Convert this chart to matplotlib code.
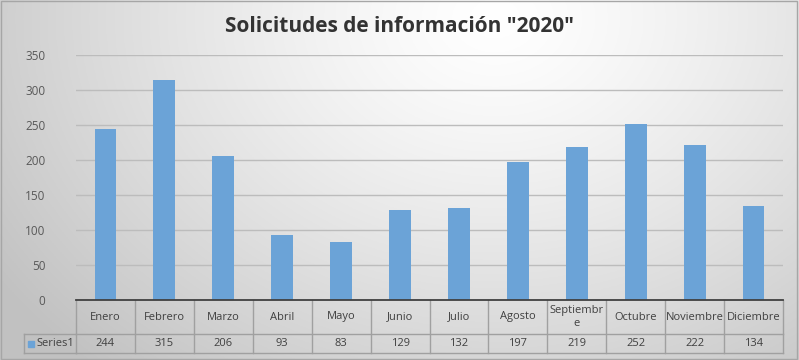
import numpy as np
import matplotlib.pyplot as plt
from matplotlib.transforms import blended_transform_factory

months = ['Enero', 'Febrero', 'Marzo', 'Abril', 'Mayo', 'Junio', 'Julio',
          'Agosto', 'Septiembr\ne', 'Octubre', 'Noviembre', 'Diciembre']
values = [244, 315, 206, 93, 83, 129, 132, 197, 219, 252, 222, 134]
series_name = 'Series1'
title = 'Solicitudes de información "2020"'

plt.rcParams['font.family'] = ['Open Sans', 'DejaVu Sans']

W, H = 799, 360
fig = plt.figure(figsize=(W / 100, H / 100), dpi=100)

# background gradient (light centre at top, grey edges)
bg = fig.add_axes([0, 0, 1, 1])
yy, xx = np.mgrid[0:1:200j, 0:1:400j]
d = np.sqrt(((xx - 0.62) / 0.75) ** 2 + ((yy - 0.05) / 1.3) ** 2)
shade = 1.0 - 0.24 * np.clip(d, 0, 1) ** 1.3
bg.imshow(np.dstack([shade] * 3), extent=[0, 1, 0, 1], aspect='auto', origin='upper')
bg.add_patch(plt.Rectangle((0.001, 0.002), 0.997, 0.995, fill=False, ec='#a6a6a6', lw=1))
bg.set_xlim(0, 1)
bg.set_ylim(0, 1)
bg.axis('off')

left, right, bottom, top = 76 / W, 783 / W, 1 - 300 / H, 1 - 55 / H
ax = fig.add_axes([left, bottom, right - left, top - bottom])
ax.patch.set_alpha(0)

x = np.arange(len(months))
ax.bar(x, values, width=0.37, color='#6ba3d7', zorder=3)
ax.set_xlim(-0.5, len(months) - 0.5)
ax.set_ylim(0, 350)
ax.set_yticks(range(0, 351, 50))
ax.tick_params(axis='y', length=0, labelsize=8.5, labelcolor='#595959', pad=22)
ax.set_xticks([])
ax.grid(axis='y', color='#bcbcbc', lw=1, zorder=0)
for s in ['top', 'right', 'left']:
    ax.spines[s].set_visible(False)
ax.spines['bottom'].set_color('#404040')
ax.spines['bottom'].set_linewidth(1.3)
ax.spines['bottom'].set_zorder(4)

# data table below the axis
tr = blended_transform_factory(ax.transData, fig.transFigure)
y_axis = 1 - 300 / H
y_mid = 1 - 334 / H
y_bot = 1 - 353 / H
line_kw = dict(color='#a0a0a0', lw=1, transform=tr, clip_on=False)
n = len(months)
for i in range(n + 1):
    ax.plot([i - 0.5, i - 0.5], [y_axis, y_bot], **line_kw)
ax.plot([-0.5, n - 0.5], [y_mid, y_mid], **line_kw)
ax.plot([-0.5, n - 0.5], [y_bot, y_bot], **line_kw)

trf = fig.transFigure
lx = 24 / W
fig.lines.append(plt.Line2D([lx, left], [y_mid, y_mid], color='#a0a0a0', lw=1, transform=trf))
fig.lines.append(plt.Line2D([lx, left], [y_bot, y_bot], color='#a0a0a0', lw=1, transform=trf))
fig.lines.append(plt.Line2D([lx, lx], [y_mid, y_bot], color='#a0a0a0', lw=1, transform=trf))

for i, (m, v) in enumerate(zip(months, values)):
    ax.text(i, (y_axis + y_mid) / 2, m, transform=tr, ha='center', va='center',
            fontsize=8, color='#404040', linespacing=1.2)
    ax.text(i, (y_mid + y_bot) / 2, str(v), transform=tr, ha='center', va='center',
            fontsize=8, color='#404040')

fig.patches.append(plt.Rectangle((28 / W, 1 - 347 / H), 6 / W, 6 / H, color='#6ba3d7',
                                 transform=trf))
fig.text(36 / W, (y_mid + y_bot) / 2, series_name, ha='left', va='center',
         fontsize=8, color='#404040')

fig.text(0.5, 1 - 26 / H, title, ha='center', va='center', fontsize=15,
         fontweight='bold', color='#333333')

fig.savefig('out.png', dpi=100)
